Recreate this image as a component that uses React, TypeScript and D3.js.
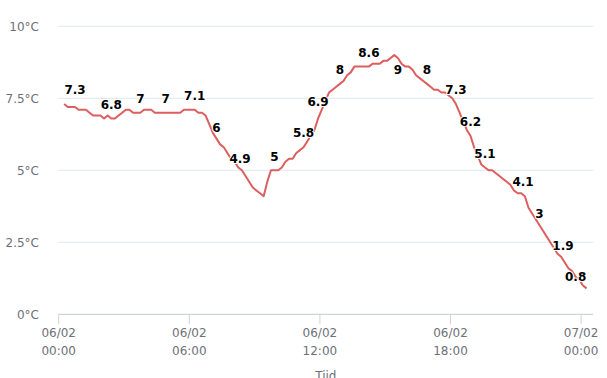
import React from "react";
import * as d3 from "d3";

// Temperature readings every 10 minutes, starting 06/02 00:15
const startTime = new Date(2024, 1, 6, 0, 15);
const stepMinutes = 10;
const temperatures = [
  7.3, 7.2, 7.2, 7.2, 7.1, 7.1, 7.1, 7.0, 6.9, 6.9,
  6.9, 6.8, 6.9, 6.8, 6.8, 6.9, 7.0, 7.1, 7.1, 7.0,
  7.0, 7.0, 7.1, 7.1, 7.1, 7.0, 7.0, 7.0, 7.0, 7.0,
  7.0, 7.0, 7.0, 7.1, 7.1, 7.1, 7.1, 7.0, 7.0, 6.9,
  6.6, 6.3, 6.1, 5.9, 5.8, 5.6, 5.4, 5.3, 5.1, 5.0,
  4.8, 4.6, 4.4, 4.3, 4.2, 4.1, 4.6, 5.0, 5.0, 5.0,
  5.1, 5.3, 5.4, 5.4, 5.6, 5.7, 5.8, 6.0, 6.2, 6.4,
  6.8, 7.1, 7.4, 7.7, 7.8, 7.9, 8.0, 8.1, 8.3, 8.4,
  8.6, 8.6, 8.6, 8.6, 8.6, 8.7, 8.7, 8.7, 8.8, 8.8,
  8.9, 9.0, 8.9, 8.7, 8.6, 8.6, 8.5, 8.3, 8.2, 8.1,
  8.0, 7.9, 7.8, 7.8, 7.7, 7.7, 7.6, 7.5, 7.3, 7.0,
  6.7, 6.4, 6.2, 5.8, 5.5, 5.2, 5.1, 5.0, 5.0, 4.9,
  4.8, 4.7, 4.6, 4.5, 4.3, 4.2, 4.2, 4.1, 3.7, 3.5,
  3.3, 3.1, 2.9, 2.7, 2.5, 2.3, 2.1, 2.0, 1.8, 1.6,
  1.5, 1.3, 1.2, 1.0, 0.9,
];

// Data labels shown on the line
const labelTimes = [
  "00:45", "02:25", "03:45", "04:55", "06:15", "07:15", "08:20",
  "09:55", "11:15", "11:55", "12:55", "14:15", "15:35", "16:55",
  "18:15", "18:55", "19:35", "21:20", "22:05", "23:10", "23:45",
];
const labelValues = [
  7.3, 6.8, 7, 7, 7.1, 6, 4.9,
  5, 5.8, 6.9, 8, 8.6, 9, 8,
  7.3, 6.2, 5.1, 4.1, 3, 1.9, 0.8,
];
const labelsBelow = ["15:35"];

const yTicks = [0, 2.5, 5, 7.5, 10];
const xTickHours = [0, 6, 12, 18, 24];
const xAxisTitle = "Tijd";
const unit = "°C";

const W = 607;
const H = 378;
const left = 58.7;
const right = 593;
const xEnd = 581.1;
const top = 26.3;
const bottom = 314.3;

export default function App() {
  const day0 = new Date(2024, 1, 6, 0, 0);
  const day1 = new Date(2024, 1, 7, 0, 0);
  const x = d3.scaleTime().domain([day0, day1]).range([left, xEnd]);
  const y = d3.scaleLinear().domain([0, 10]).range([bottom, top]);

  const data = temperatures.map((v, i) => ({
    t: d3.timeMinute.offset(startTime, i * stepMinutes),
    v,
  }));

  const line = d3
    .line<{ t: Date; v: number }>()
    .x((d) => x(d.t))
    .y((d) => y(d.v))
    .curve(d3.curveLinear);

  const parseT = (s: string) => {
    const [h, m] = s.split(":").map(Number);
    return d3.timeMinute.offset(day0, h * 60 + m);
  };

  const fmtDate = d3.timeFormat("%d/%m");
  const fmtTime = d3.timeFormat("%H:%M");
  const fmtNum = d3.format("~g");

  const font = "'DejaVu Sans', sans-serif";

  return (
    <svg
      width={W}
      height={H}
      style={{ position: "absolute", left: 0, top: 0, background: "#fff" }}
    >
      {/* grid lines */}
      {yTicks.map((t) =>
        t === 0 ? null : (
          <line
            key={"g" + t}
            x1={left}
            x2={right}
            y1={y(t)}
            y2={y(t)}
            stroke="#E0E6F1"
            strokeWidth={1}
          />
        )
      )}
      {/* y labels */}
      {yTicks.map((t) => (
        <text
          key={"yl" + t}
          x={39}
          y={y(t)}
          dy="0.35em"
          textAnchor="end"
          fontFamily={font}
          fontSize={12}
          fill="#6E7079"
        >
          {fmtNum(t) + unit}
        </text>
      ))}
      {/* x axis */}
      <line x1={left} x2={right} y1={bottom} y2={bottom} stroke="#cfd3da" strokeWidth={1.2} />
      {xTickHours.map((h) => {
        const d = d3.timeHour.offset(day0, h);
        const xx = x(d);
        return (
          <g key={"xt" + h}>
            <line x1={xx} x2={xx} y1={bottom} y2={bottom + 10} stroke="#cfd3da" strokeWidth={1} />
            <text
              x={xx}
              y={337}
              textAnchor="middle"
              fontFamily={font}
              fontSize={12}
              fill="#6E7079"
            >
              {fmtDate(d)}
            </text>
            <text
              x={xx}
              y={354.5}
              textAnchor="middle"
              fontFamily={font}
              fontSize={12}
              fill="#6E7079"
            >
              {fmtTime(d)}
            </text>
          </g>
        );
      })}
      <text
        x={(left + right) / 2}
        y={380}
        textAnchor="middle"
        fontFamily={font}
        fontSize={12}
        fill="#6E7079"
      >
        {xAxisTitle}
      </text>
      {/* line */}
      <path
        d={line(data) || ""}
        fill="none"
        stroke="#dd5e5e"
        strokeWidth={2}
        strokeLinejoin="round"
      />
      {/* data labels */}
      {labelTimes.map((s, i) => {
        const below = labelsBelow.includes(s);
        return (
          <text
            key={"dl" + i}
            x={x(parseT(s))}
            y={y(labelValues[i]) + (below ? 15 : -14)}
            dy="0.35em"
            textAnchor="middle"
            fontFamily={font}
            fontWeight="bold"
            fontSize={12}
            fill="#000"
            stroke="#fff"
            strokeWidth={2}
            paintOrder="stroke"
          >
            {fmtNum(labelValues[i])}
          </text>
        );
      })}
    </svg>
  );
}
